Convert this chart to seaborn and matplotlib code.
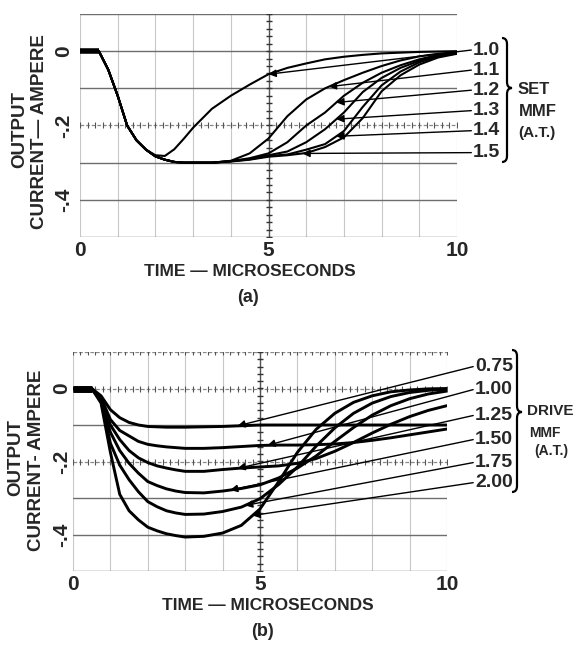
import numpy as np
import pandas as pd
import matplotlib
matplotlib.use("Agg")
import matplotlib.pyplot as plt
import seaborn as sns
from matplotlib.path import Path
from matplotlib.patches import PathPatch

# ---- data ----
time_us = [0, 0.5, 0.75, 1.0, 1.25, 1.5, 1.75, 2.0, 2.25, 2.5, 2.75, 3.0, 3.5, 4.0,
           4.5, 5.0, 5.5, 6.0, 6.5, 7.0, 7.5, 8.0, 8.5, 9.0, 9.5, 10.0]

# (a) set MMF family
set_labels = ["1.0", "1.1", "1.2", "1.3", "1.4", "1.5"]
set_10 = [0, 0, -0.05, -0.12, -0.2, -0.24, -0.265, -0.28, -0.282, -0.264, -0.236, -0.206, -0.155, -0.12,
          -0.09, -0.062, -0.045, -0.033, -0.022, -0.015, -0.01, -0.006, -0.004, -0.002, -0.001, 0]
set_11 = [0, 0, -0.05, -0.12, -0.2, -0.24, -0.265, -0.283, -0.292, -0.298, -0.3, -0.3, -0.3, -0.295,
          -0.275, -0.235, -0.175, -0.13, -0.1, -0.078, -0.058, -0.04, -0.025, -0.014, -0.007, -0.003]
set_12 = [0, 0, -0.05, -0.12, -0.2, -0.24, -0.265, -0.283, -0.292, -0.298, -0.3, -0.3, -0.3, -0.296,
          -0.288, -0.275, -0.245, -0.2, -0.165, -0.12, -0.085, -0.058, -0.038, -0.022, -0.01, -0.004]
set_13 = [0, 0, -0.05, -0.12, -0.2, -0.24, -0.265, -0.283, -0.292, -0.298, -0.3, -0.3, -0.3, -0.296,
          -0.29, -0.28, -0.27, -0.245, -0.21, -0.165, -0.11, -0.072, -0.045, -0.026, -0.012, -0.005]
set_14 = [0, 0, -0.05, -0.12, -0.2, -0.24, -0.265, -0.283, -0.292, -0.298, -0.3, -0.3, -0.3, -0.296,
          -0.291, -0.282, -0.278, -0.265, -0.25, -0.215, -0.15, -0.092, -0.055, -0.03, -0.014, -0.006]
set_15 = [0, 0, -0.05, -0.12, -0.2, -0.24, -0.265, -0.283, -0.292, -0.298, -0.3, -0.3, -0.3, -0.297,
          -0.292, -0.284, -0.28, -0.274, -0.258, -0.232, -0.18, -0.108, -0.065, -0.036, -0.017, -0.007]
set_arrow_t = [5.0, 6.6, 6.8, 6.8, 6.8, 5.9]

# (b) drive MMF family
drive_labels = ["0.75", "1.00", "1.25", "1.50", "1.75", "2.00"]
drive_075 = [0, 0, -0.02, -0.058, -0.08, -0.093, -0.1, -0.104, -0.105, -0.106, -0.106, -0.106, -0.105, -0.104,
             -0.102, -0.1, -0.1, -0.1, -0.1, -0.1, -0.1, -0.1, -0.1, -0.1, -0.1, -0.1]
drive_100 = [0, 0, -0.025, -0.085, -0.115, -0.13, -0.145, -0.153, -0.157, -0.16, -0.162, -0.164, -0.164, -0.162,
             -0.159, -0.156, -0.155, -0.155, -0.154, -0.152, -0.148, -0.142, -0.135, -0.127, -0.119, -0.111]
drive_125 = [0, 0, -0.03, -0.1, -0.14, -0.17, -0.19, -0.203, -0.212, -0.218, -0.223, -0.227, -0.227, -0.222,
             -0.218, -0.215, -0.212, -0.205, -0.192, -0.172, -0.148, -0.122, -0.098, -0.077, -0.06, -0.047]
drive_150 = [0, 0, -0.032, -0.12, -0.17, -0.205, -0.232, -0.255, -0.266, -0.275, -0.281, -0.285, -0.286, -0.281,
             -0.274, -0.264, -0.245, -0.218, -0.185, -0.145, -0.107, -0.073, -0.047, -0.028, -0.015, -0.007]
drive_175 = [0, 0, -0.035, -0.15, -0.21, -0.25, -0.283, -0.31, -0.324, -0.335, -0.341, -0.345, -0.344, -0.337,
             -0.325, -0.302, -0.263, -0.215, -0.158, -0.108, -0.068, -0.04, -0.022, -0.011, -0.005, -0.002]
drive_200 = [0, 0, -0.04, -0.175, -0.29, -0.335, -0.36, -0.38, -0.39, -0.398, -0.403, -0.407, -0.405, -0.396,
             -0.375, -0.33, -0.255, -0.175, -0.112, -0.068, -0.038, -0.02, -0.009, -0.004, -0.001, 0]
drive_arrow_t = [4.4, 5.2, 4.4, 4.2, 4.6, 4.8]

# label anchor heights (data units) for the leader lines
set_label_y = [0.003, -0.051, -0.105, -0.16, -0.214, -0.273]
drive_label_y = [0.06, -0.003, -0.074, -0.14, -0.203, -0.258]

set_curves = [set_10, set_11, set_12, set_13, set_14, set_15]
drive_curves = [drive_075, drive_100, drive_125, drive_150, drive_175, drive_200]


def long_frame(labels, curves):
    rows = []
    for lab, vals in zip(labels, curves):
        for t, v in zip(time_us, vals):
            rows.append({"t": t, "current": v, "mmf": lab})
    return pd.DataFrame(rows)


df_a = long_frame(set_labels, set_curves)
df_b = long_frame(drive_labels, drive_curves)

sns.set_style("white")
plt.rcParams["font.family"] = ["Liberation Sans", "DejaVu Sans"]
plt.rcParams["font.weight"] = "bold"

W, H = 578, 648
fig = plt.figure(figsize=(W / 100, H / 100), dpi=100)
fig.patch.set_facecolor("white")


def fx(px):
    return px / W


def fy(py):
    return 1 - py / H


def brace(x0, x1, ytop, ybot, ytip):
    # right-pointing curly brace, pixel coordinates
    xm = (x0 + x1) / 2
    d = 6
    verts = [(x0, ytop), (xm, ytop), (xm, ytop + d),
             (xm, ytip - d),
             (xm, ytip), (x1, ytip),
             (xm, ytip), (xm, ytip + d),
             (xm, ybot - d),
             (xm, ybot), (x0, ybot)]
    verts = [(fx(a), fy(b)) for a, b in verts]
    codes = [Path.MOVETO, Path.CURVE3, Path.CURVE3, Path.LINETO,
             Path.CURVE3, Path.CURVE3, Path.CURVE3, Path.CURVE3,
             Path.LINETO, Path.CURVE3, Path.CURVE3]
    fig.patches.append(PathPatch(Path(verts, codes), transform=fig.transFigure,
                                 fill=False, lw=1.6, color="black"))


def graticule(ax, hlines_solid, hlines_dotted):
    for x in range(0, 11):
        ax.axvline(x, color="#c8c8c8", lw=0.8, zorder=0)
    for y in hlines_solid:
        ax.axhline(y, color="#6e6e6e", lw=1.0, zorder=0)
    for y in hlines_dotted:
        ax.axhline(y, color="#8a8a8a", lw=0.9, ls=(0, (3, 1.5)), zorder=0)
        ax.plot(np.arange(0, 10.01, 0.2), [y] * 51, ls="none", marker="|",
                ms=4, color="#555555", mew=0.8, zorder=0)
    ax.axvline(5, color="#555555", lw=1.0, zorder=0)
    ax.plot([5] * 31, np.arange(-0.5, 0.101, 0.02), ls="none", marker="_",
            ms=5, color="#333333", mew=1.0, zorder=0)


def style_axes(ax, ypad):
    ax.set_xlim(0, 10)
    ax.set_ylim(-0.5, 0.1)
    for s in ax.spines.values():
        s.set_visible(False)
    ax.set_xticks([0, 5, 10])
    ax.set_xticklabels(["0", "5", "10"], fontsize=15, fontweight="bold")
    ax.set_yticks([0, -0.2, -0.4])
    ax.set_yticklabels(["0", "-.2", "-.4"], fontsize=15, fontweight="bold",
                       rotation=90, va="center")
    ax.tick_params(axis="x", length=0, pad=3)
    ax.tick_params(axis="y", length=0, pad=ypad)
    ax.set_xlabel("")
    ax.set_ylabel("")
    ax.set_facecolor("white")


def leaders(ax, labels, curves, arrow_t, label_y, label_x, fs):
    for lab, vals, ta, ly in zip(labels, curves, arrow_t, label_y):
        ya = np.interp(ta, time_us, vals)
        ax.annotate("", xy=(ta, ya), xytext=(label_x, ly),
                    arrowprops=dict(arrowstyle="-|>", lw=1.0, color="black",
                                    mutation_scale=11, shrinkA=0, shrinkB=0),
                    annotation_clip=False, zorder=4)
        ax.text(label_x + 0.05, ly, lab, fontsize=fs, fontweight="bold",
                va="center", ha="left", clip_on=False)


# ---------------- panel (a) ----------------
ax_a = fig.add_axes([fx(80), fy(237), fx(457) - fx(80), fy(14) - fy(237)])
graticule(ax_a, [0.1, 0, -0.1, -0.3, -0.4, -0.5], [-0.2])
sns.lineplot(data=df_a, x="t", y="current", hue="mmf", palette=["black"] * 6,
             estimator=None, legend=False, lw=1.5, ax=ax_a, zorder=3)
ax_a.plot(time_us[:2], set_10[:2], color="black", lw=4, solid_capstyle="butt", zorder=3)
style_axes(ax_a, 5)
leaders(ax_a, set_labels, set_curves, set_arrow_t, set_label_y, 10.38, 14)
brace(502, 512, 38, 162, 88)
fig.text(fx(534), fy(90), "SET", fontsize=12, fontweight="bold", ha="center", va="center")
fig.text(fx(538), fy(112), "MMF", fontsize=12, fontweight="bold", ha="center", va="center")
fig.text(fx(537), fy(133), "(A.T.)", fontsize=11, fontweight="bold", ha="center", va="center")

fig.text(fx(20), fy(130), "OUTPUT", rotation=90, fontsize=13.5, fontweight="bold",
         ha="center", va="center")
fig.text(fx(40), fy(132), "CURRENT\u2014 AMPERE", rotation=90, fontsize=13.5,
         fontweight="bold", ha="center", va="center")
fig.text(fx(250), fy(271), "TIME \u2014 MICROSECONDS", fontsize=12.5, fontweight="bold",
         ha="center", va="center")
fig.text(fx(248), fy(298), "(a)", fontsize=13, fontweight="bold", ha="center", va="center")

# ---------------- panel (b) ----------------
ax_b = fig.add_axes([fx(73), fy(571), fx(447) - fx(73), fy(352) - fy(571)])
graticule(ax_b, [-0.1, -0.3, -0.4, -0.5], [0.1, 0, -0.2])
sns.lineplot(data=df_b, x="t", y="current", hue="mmf", palette=["black"] * 6,
             estimator=None, legend=False, lw=2.1, ax=ax_b, zorder=3)
ax_b.plot(time_us[:2], drive_075[:2], color="black", lw=5, solid_capstyle="butt", zorder=3)
style_axes(ax_b, 1.5)
leaders(ax_b, drive_labels, drive_curves, drive_arrow_t, drive_label_y, 10.7, 14)
brace(512, 522, 350, 492, 412)
fig.text(fx(550), fy(411), "DRIVE", fontsize=11, fontweight="bold", ha="center", va="center")
fig.text(fx(545), fy(433), "MMF", fontsize=10, fontweight="bold", ha="center", va="center")
fig.text(fx(551), fy(451), "(A.T.)", fontsize=10, fontweight="bold", ha="center", va="center")

fig.text(fx(16), fy(458), "OUTPUT", rotation=90, fontsize=13.5, fontweight="bold",
         ha="center", va="center")
fig.text(fx(37), fy(460), "CURRENT- AMPERE", rotation=90, fontsize=13.5,
         fontweight="bold", ha="center", va="center")
fig.text(fx(268), fy(606), "TIME \u2014 MICROSECONDS", fontsize=12.5, fontweight="bold",
         ha="center", va="center")
fig.text(fx(262), fy(632), "(b)", fontsize=13, fontweight="bold", ha="center", va="center")

fig.savefig("out.png", dpi=100, facecolor="white")
